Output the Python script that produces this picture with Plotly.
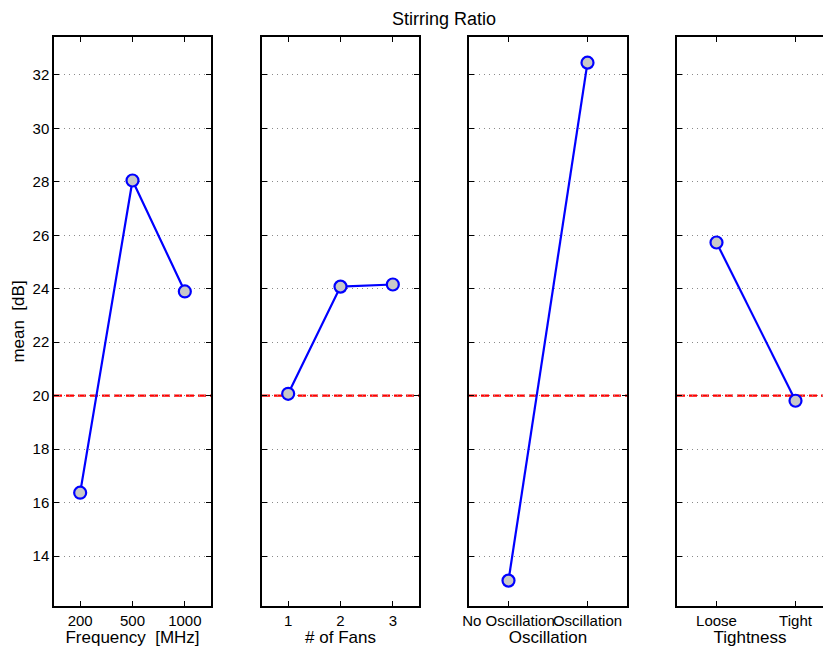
import plotly.graph_objects as go

# ---- data ----
freq_labels = ["200", "500", "1000"]
freq_means = [16.37, 28.05, 23.9]
fans_labels = ["1", "2", "3"]
fans_means = [20.07, 24.08, 24.16]
osc_labels = ["No Oscillation", "Oscillation"]
osc_means = [13.08, 32.46]
tight_labels = ["Loose", "Tight"]
tight_means = [25.73, 19.81]
y_ticks = [14, 16, 18, 20, 22, 24, 26, 28, 30, 32]
threshold = 20

panels = [
    (freq_labels, freq_means, "Frequency\u00a0\u00a0[MHz]"),
    (fans_labels, fans_means, "# of Fans"),
    (osc_labels, osc_means, "Oscillation"),
    (tight_labels, tight_means, "Tightness"),
]

W, H = 823, 647
px_domains = [(54, 211), (262, 419), (469, 627), (677, 823)]
full_widths = [157, 157, 158, 158]

fig = go.Figure()
font = dict(family="Liberation Sans, Arial, sans-serif", color="black")

for i, (labels, means, title) in enumerate(panels):
    n = i + 1
    xs = list(range(1, len(labels) + 1))
    fig.add_trace(go.Scatter(
        x=xs, y=means, mode="lines+markers",
        line=dict(color="#0000ff", width=2.2),
        marker=dict(size=12, color="#c8c8c8", line=dict(color="#0000ff", width=2.2)),
        xaxis=f"x{n}" if n > 1 else "x", yaxis=f"y{n}" if n > 1 else "y",
        showlegend=False, hoverinfo="skip"))
    d0, d1 = px_domains[i]
    k = len(labels)
    unit = full_widths[i] / k
    rmax = 0.5 + (d1 - d0) / unit
    xa = dict(domain=[d0 / W, d1 / W], range=[0.5, rmax],
              tickmode="array", tickvals=xs, ticktext=labels, tickangle=0,
              ticks="inside", ticklen=5, tickwidth=1, tickcolor="black",
              showline=True, linecolor="black", linewidth=1.5,
              mirror="ticks", showgrid=False, zeroline=False,
              tickfont=dict(size=15, **font),
              title=dict(text=title, font=dict(size=17, **font), standoff=0),
              anchor=f"y{n}" if n > 1 else "y", automargin=False)
    ya = dict(domain=[0, 1], range=[12.13, 33.42],
              tickmode="array", tickvals=y_ticks,
              ticks="inside", ticklen=5, tickwidth=1, tickcolor="black",
              showline=True, linecolor="black", linewidth=1.5,
              mirror="ticks" if n < 4 else False,
              showgrid=True, gridcolor="#8a8a8a", griddash="1px,4px", gridwidth=1,
              zeroline=False, showticklabels=(n == 1),
              tickfont=dict(size=15, **font),
              anchor=f"x{n}" if n > 1 else "x", automargin=False)
    if n == 1:
        ya["title"] = dict(text="mean\u00a0\u00a0[dB]", font=dict(size=17, **font), standoff=4)
    fig.layout[f"xaxis{n}" if n > 1 else "xaxis"] = xa
    fig.layout[f"yaxis{n}" if n > 1 else "yaxis"] = ya
    fig.add_shape(type="line", xref=f"x{n} domain" if n > 1 else "x domain",
                  yref=f"y{n}" if n > 1 else "y",
                  x0=0, x1=1, y0=threshold, y1=threshold,
                  line=dict(color="#ff0000", width=2.2, dash="8px,4px"), layer="below")

fig.add_annotation(text="Stirring Ratio", xref="paper", yref="paper",
                   x=444 / W, y=1, yshift=6, xanchor="center", yanchor="bottom",
                   showarrow=False, font=dict(size=18, **font))

fig.update_layout(width=W, height=H, margin=dict(l=0, r=0, t=37, b=41),
                  plot_bgcolor="white", paper_bgcolor="white")

fig.write_html("out.html")
